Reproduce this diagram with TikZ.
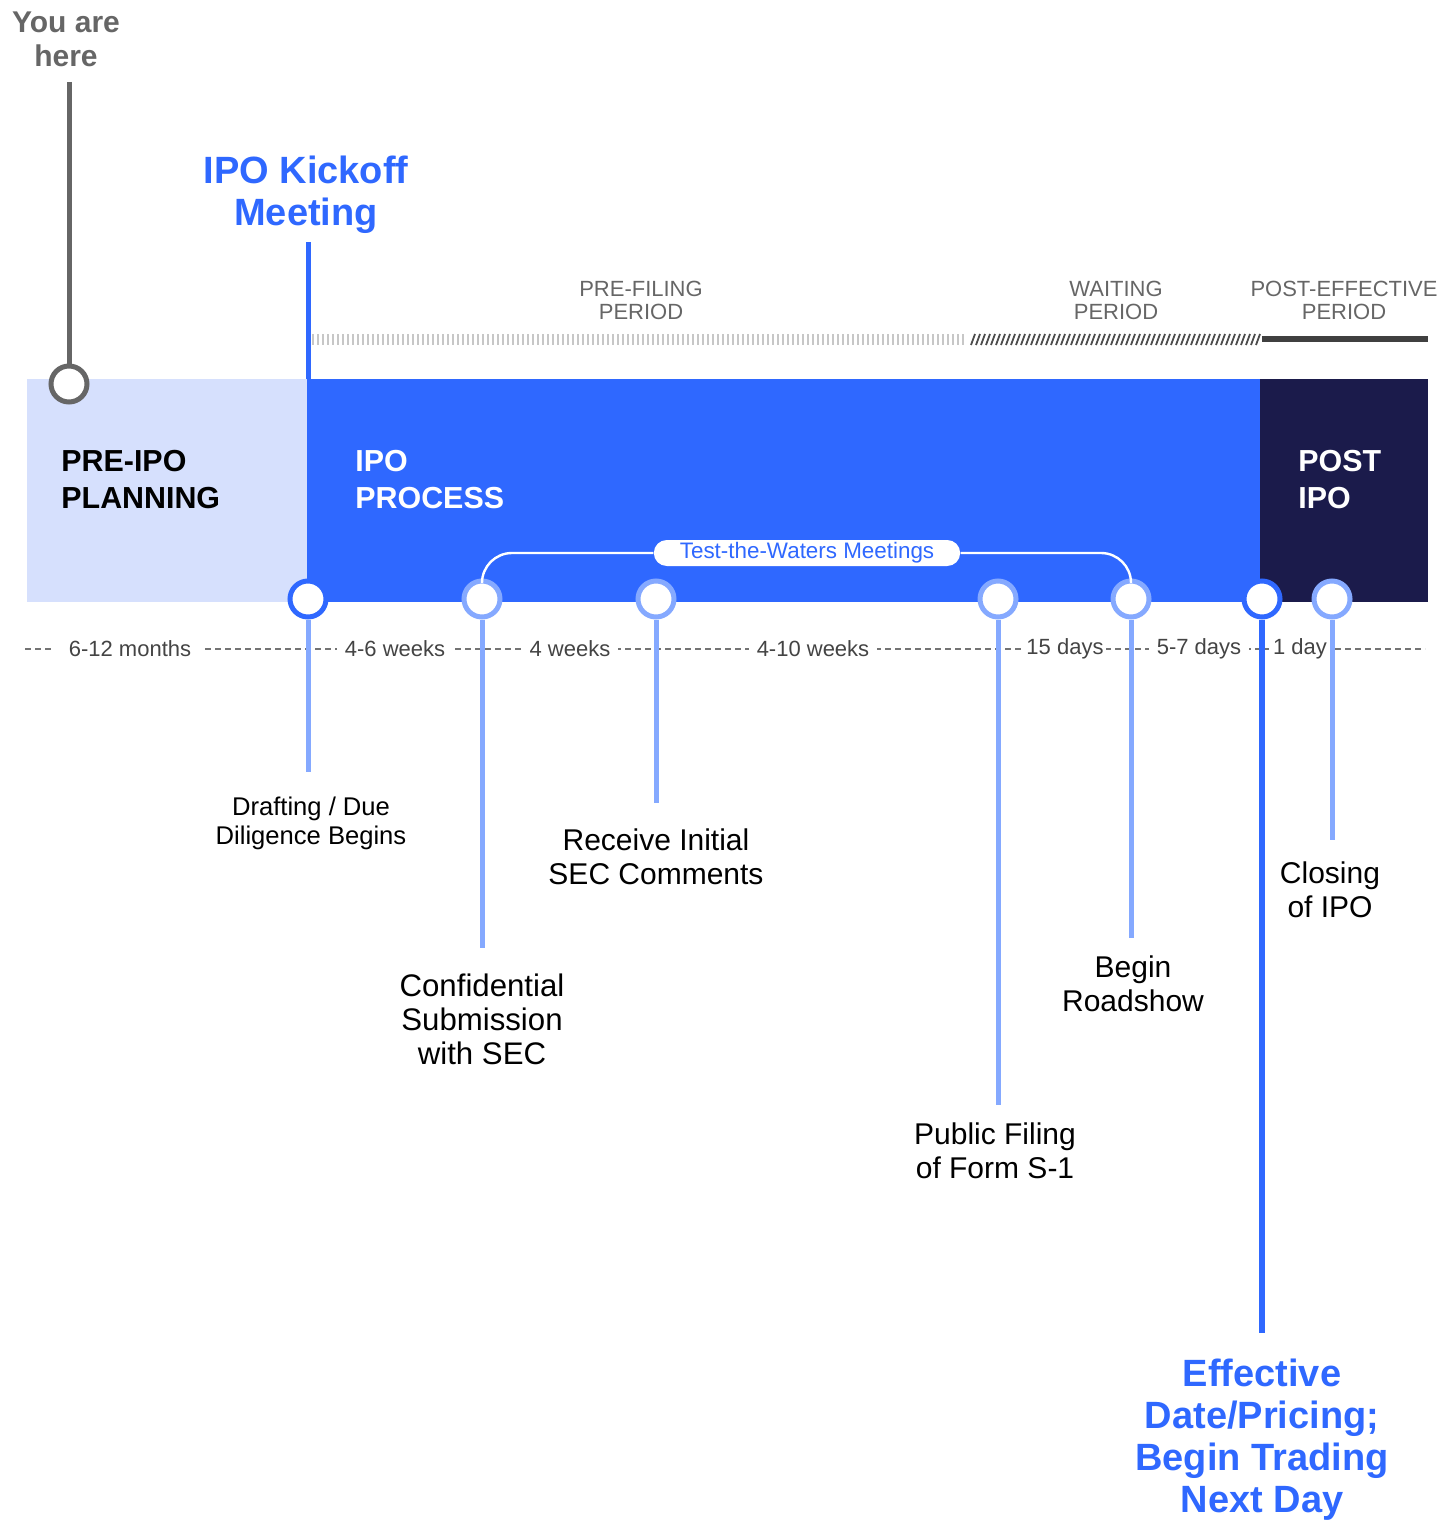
\documentclass[tikz,border=0pt]{standalone}
\usepackage{fontspec}
\setmainfont{Liberation Sans}
\usetikzlibrary{positioning}

\definecolor{blau}{HTML}{2F68FF}
\definecolor{hellblau}{HTML}{85A9FF}
\definecolor{blass}{HTML}{D6E0FD}
\definecolor{nacht}{HTML}{1B1B4B}
\definecolor{grau}{HTML}{666666}
\definecolor{dunkel}{HTML}{444444}

\tikzset{
  meilen/.style={circle,draw=hellblau,fill=white,line width=2.5pt,minimum size=18pt,inner sep=0pt},
  haupt/.style={meilen,draw=blau},
  stiel/.style={hellblau,line width=2.5pt},
  dauer/.style={fill=white,text=dunkel,inner xsep=4pt,inner ysep=1pt,font=\fontsize{11}{12}\selectfont},
  ereignis/.style={align=center,inner sep=0pt,text=black,font=\fontsize{15}{17}\selectfont},
  phase/.style={align=center,inner sep=0pt,text=grau,font=\fontsize{11}{11.5}\selectfont},
  titel/.style={align=left,inner sep=0pt,font=\bfseries\fontsize{15.2}{18.5}\selectfont}
}

\begin{document}
\begin{tikzpicture}[x=0.5pt,y=-0.5pt]
	\useasboundingbox (0,0) rectangle (1452,1520);
	% Balken
		\fill[blass] (27,379) rectangle (307,602);
		\fill[blau] (307,379) rectangle (1260,602);
		\fill[nacht] (1260,379) rectangle (1428,602);
		\node[titel,anchor=north west] (pre) at (61,450) {PRE-IPO\\PLANNING};
		\node[titel,anchor=north west,text=white] (proc) at (355,450) {IPO\\PROCESS};
		\node[titel,anchor=north west,text=white] (post) at (1298,450) {POST\\IPO};
	% Phasen
		\foreach \x in {313,318,...,966} \draw[black!22,line width=0.6pt] (\x,334) -- (\x,345);
		\foreach \x in {971,976,...,1256} \draw[black!70,line width=0.9pt] (\x,345) -- (\x+4,334);
		\draw[black!75,line width=3pt] (1262,339) -- (1428,339);
		\node[phase,anchor=north] (pf) at (641,281) {PRE-FILING\\PERIOD};
		\node[phase,anchor=north] (wp) at (1116,281) {WAITING\\PERIOD};
		\node[phase,anchor=north] (pe) at (1344,281) {POST-EFFECTIVE\\PERIOD};
	% You are here
		\node[align=center,inner sep=0pt,text=grau,font=\bfseries\fontsize{15}{17}\selectfont,anchor=north] (hier) at (66,11) {You are\\here};
		\coordinate (h0) at (69,82);
		\node (start) at (69,384) [circle,draw=grau,fill=white,line width=2.5pt,minimum size=18pt,inner sep=0pt] {};
		\draw[grau,line width=2.5pt] (h0) -- (start);
	% Kickoff
		\node[align=center,inner sep=0pt,text=blau,font=\bfseries\fontsize{19}{21}\selectfont,anchor=north] (kick) at (306,156) {IPO Kickoff\\Meeting};
		\coordinate (k0) at (308,242);
		\coordinate (k1) at (308,379);
		\draw[blau,line width=2.5pt] (k0) -- (k1);
	% Zeitachse
		\coordinate (z0) at (25,649);
		\coordinate (z1) at (1425,649);
		\draw[black!55,line width=1pt,dash pattern=on 3pt off 2pt] (z0) -- (z1);
		\node[dauer,inner xsep=7pt] at (130,649) {6-12 months};
		\node[dauer] at (395,649) {4-6 weeks};
		\node[dauer] at (570,649) {4 weeks};
		\node[dauer] at (813,649) {4-10 weeks};
		\node[dauer,inner xsep=1pt] at (1065,649) {15 days};
		\node[dauer] at (1199,649) {5-7 days};
		\node[dauer,inner xsep=2pt] at (1300,649) {1 day};
	% Knoten
		\node (m1) at (308,599) [haupt] {};
		\node (m2) at (482,599) [meilen] {};
		\node (m3) at (656,599) [meilen] {};
		\node (m4) at (998,599) [meilen] {};
		\node (m5) at (1131,599) [meilen] {};
		\node (m6) at (1262,599) [haupt] {};
		\node (m7) at (1332,599) [meilen] {};
		\node (ttw) at (807,553) [fill=white,text=blau,rounded corners=6.5pt,minimum height=13pt,inner ysep=0pt,inner xsep=13pt,font=\fontsize{11.2}{12}\selectfont] {Test-the-Waters Meetings};
		\draw[white,line width=1.2pt,rounded corners=15pt] (m2.north) |- (ttw.west);
		\draw[white,line width=1.2pt,rounded corners=15pt] (ttw.east) -| (m5.north);
	% Kanten
		\coordinate (e1) at (308,772);
		\coordinate (e2) at (482,948);
		\coordinate (e3) at (656,803);
		\coordinate (e4) at (998,1105);
		\coordinate (e5) at (1131,938);
		\coordinate (e6) at (1262,1333);
		\coordinate (e7) at (1332,840);
		\draw[stiel] (m1) -- (e1);
		\draw[stiel] (m2) -- (e2);
		\draw[stiel] (m3) -- (e3);
		\draw[stiel] (m4) -- (e4);
		\draw[stiel] (m5) -- (e5);
		\draw[blau,line width=3pt] (m6) -- (e6);
		\draw[stiel] (m7) -- (e7);
	% Texte
		\node[ereignis,below=12.5pt of e1,font=\fontsize{12.8}{14.5}\selectfont,xshift=1.5pt] (t1) {Drafting / Due\\Diligence Begins};
		\node[ereignis,below=12.5pt of e2,font=\fontsize{15.6}{17}\selectfont] (t2) {Confidential\\Submission\\with SEC};
		\node[ereignis,below=12.5pt of e3] (t3) {Receive Initial\\SEC Comments};
		\node[ereignis,below=8.5pt of e4,xshift=-1.5pt] (t4) {Public Filing\\of Form S-1};
		\node[ereignis,below=8.5pt of e5,xshift=1pt] (t5) {Begin\\Roadshow};
		\node[ereignis,below=10.5pt of e7,xshift=-1pt] (t7) {Closing\\of IPO};
		\node[ereignis,below=13pt of e6,text=blau,font=\bfseries\fontsize{19}{21}\selectfont] (t6) {Effective\\Date/Pricing;\\Begin Trading\\Next Day};
\end{tikzpicture}
\end{document}
